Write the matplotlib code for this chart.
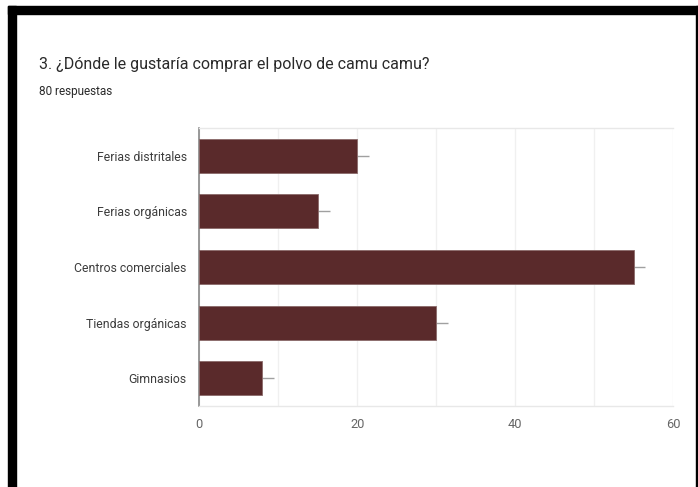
import matplotlib
matplotlib.use('agg')
import matplotlib.pyplot as plt
from matplotlib.patches import Rectangle

# Data
categories = ['Ferias distritales', 'Ferias orgánicas', 'Centros comerciales',
              'Tiendas orgánicas', 'Gimnasios']
counts = [20, 15, 55, 30, 8]
whisker = [1.5, 1.5, 1.5, 1.5, 1.5]
x_ticks = [0, 20, 40, 60]

plt.rcParams['font.family'] = ['Roboto', 'DejaVu Sans']

W, H = 698, 487
fig = plt.figure(figsize=(W / 100, H / 100), dpi=100)

# black frame around the screenshot
fig.patches.append(Rectangle((8 / W, 1 - 14 / H), 1 - 8 / W, 8 / H,
                             transform=fig.transFigure, color='black', zorder=0))
fig.patches.append(Rectangle((8 / W, 0), 8 / W, 1 - 6 / H,
                             transform=fig.transFigure, color='black', zorder=0))
fig.patches.append(Rectangle((696 / W, 0), 2 / W, 1 - 6 / H,
                             transform=fig.transFigure, color='black', zorder=0))

# Title and subtitle
fig.text(39 / W, 1 - 69 / H, '3. ¿Dónde le gustaría comprar el polvo de camu camu?',
         fontsize=11.5, color='#2a2a2a', va='baseline')
fig.text(39 / W, 1 - 95 / H, '80 respuestas', fontsize=8.5, color='#2a2a2a',
         va='baseline')

# Axes
left, right, top, bottom = 199.3, 673, 128, 406
ax = fig.add_axes([left / W, 1 - bottom / H, (right - left) / W, (bottom - top) / H])

y = list(range(len(categories)))
ax.barh(y, counts, height=0.61, color='#5a2a2b', edgecolor='#8a6a6a',
        linewidth=0.6, zorder=3)
ax.errorbar(counts, y, xerr=[[0] * len(counts), whisker], fmt='none',
            ecolor='#a0a0a0', elinewidth=1, capsize=0, zorder=2)

ax.set_ylim(4.5, -0.5)
ax.set_xlim(0, 60)
ax.set_yticks(y)
ax.set_yticklabels(categories)
ax.set_xticks(x_ticks)
ax.set_xticks([10, 30, 50], minor=True)
ax.tick_params(axis='y', length=0, pad=9, labelsize=8.8, labelcolor='#3c3c3c')
ax.tick_params(axis='x', which='both', length=0, pad=9, labelsize=9.2,
               labelcolor='#666666')
ax.grid(axis='x', which='both', color='#f0f0f0', linewidth=1, zorder=0)

ax.spines['left'].set_color('#888888')
ax.spines['left'].set_linewidth(1.2)
for s in ['top', 'bottom', 'right']:
    ax.spines[s].set_color('#e8e8e8')
    ax.spines[s].set_linewidth(1)
ax.spines['right'].set_visible(False)

fig.savefig('out.png', dpi=100)
